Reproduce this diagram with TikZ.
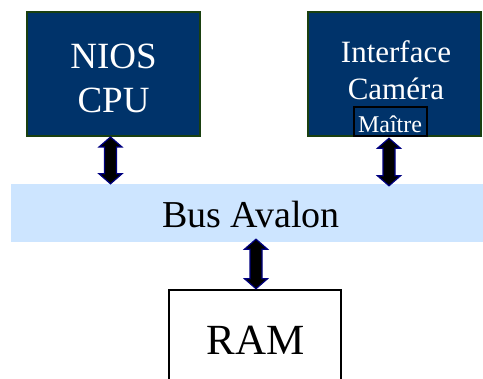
\documentclass[tikz,border=0pt]{standalone}
\usepackage{fontspec}
\setmainfont{Liberation Serif}
\usetikzlibrary{calc}
\definecolor{boxnavy}{HTML}{00336A}
\definecolor{boxgreen}{HTML}{1A4010}
\definecolor{busblue}{HTML}{CDE5FF}
\definecolor{arrnavy}{HTML}{000080}
\tikzset{
  unit/.style={draw=boxgreen, line width=2pt, fill=boxnavy, minimum width=173pt, minimum height=124pt, inner sep=0pt},
  wtext/.style={text=white, align=center, inner sep=0pt},
  bigarrow/.style={draw=arrnavy, fill=black, line width=1.2pt, line join=miter}
}
\newcommand\busarrow[2]{%
  \path[bigarrow] let \p1=(#1), \p2=(#2) in
    (\x1,\y1) -- (\x1+11.5pt,\y1-10pt) -- (\x1+6pt,\y1-10pt) -- (\x1+6pt,\y2+10pt)
    -- (\x1+11.5pt,\y2+10pt) -- (\x1,\y2) -- (\x1-11.5pt,\y2+10pt) -- (\x1-6pt,\y2+10pt)
    -- (\x1-6pt,\y1-10pt) -- (\x1-11.5pt,\y1-10pt) -- cycle;}
\begin{document}
\begin{tikzpicture}[x=1pt,y=-1pt]
\useasboundingbox (0,0) rectangle (483,379);
% bus
\node[fill=busblue, minimum width=472pt, minimum height=58pt, inner sep=0pt] (bus) at (247,213) {};
\node[inner sep=0pt, font=\fontsize{38}{42}\selectfont] (buslabel) at (251,215) {Bus Avalon};
% units
\node[unit] (nios) at (113.5,74) {};
\node[wtext, font=\fontsize{37}{44}\selectfont] (niostext) at (113.5,78) {NIOS\\CPU};
\node[unit] (cam) at (394.5,74) {};
\node[wtext, font=\fontsize{31}{37}\selectfont] (camtext) at (396,70) {Interface\\Caméra};
\node[draw=black, line width=1.5pt, minimum width=73pt, minimum height=29pt, inner sep=0pt] (maitre) at (390.5,121.5) {};
\node[text=white, inner sep=0pt, anchor=base, font=\fontsize{24}{28}\selectfont] (maitretext) at (390,133) {Maître};
% RAM
\node[draw=black, line width=2.5pt, fill=white, minimum width=172pt, minimum height=110pt, inner sep=0pt] (ram) at (255,345) {};
\node[inner sep=0pt, font=\fontsize{43}{48}\selectfont] (ramtext) at (255.5,340) {RAM};
% arrows
\coordinate (a1t) at ($(nios.south)+(-3,0)$);
\coordinate (a1b) at (a1t |- bus.north);
\coordinate (a2t) at ($(maitre.south)+(-1.5,1.5)$);
\coordinate (a2b) at ($(a2t |- bus.north)+(0,2)$);
\coordinate (a3t) at ($(bus.south -| ram.north)+(1,-3)$);
\coordinate (a3b) at (ram.north);
\busarrow{a1t}{a1b}
\busarrow{a2t}{a2b}
\busarrow{a3t}{a3b}
\end{tikzpicture}
\end{document}
